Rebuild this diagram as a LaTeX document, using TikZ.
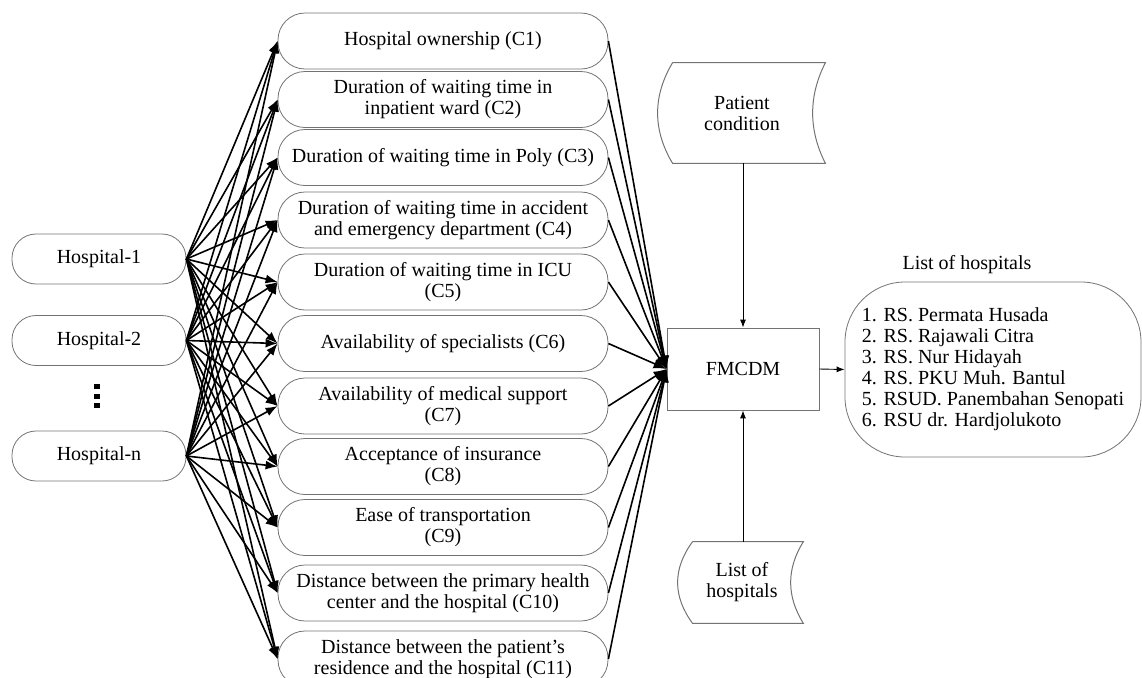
\documentclass[tikz,border=0pt]{standalone}
\usepackage{fontspec}
\setmainfont{Liberation Serif}
\usetikzlibrary{arrows.meta,positioning,calc}
\tikzset{>=latex}
\tikzset{
  hosp/.style={draw=black!55,rounded corners=12pt,minimum width=87pt,minimum height=25pt,inner sep=0pt},
  crit/.style={draw=black!55,rounded corners=13.5pt,minimum width=165pt,minimum height=28pt,inner sep=0pt,align=center},
  hcarrow/.style={-{Latex[length=6pt,width=4.5pt]},line width=0.8pt},
  cfarrow/.style={-{Latex[length=6.5pt,width=5pt]},line width=0.8pt},
  smallarrow/.style={-{Latex[length=4pt,width=3pt]},line width=0.45pt},
}
% stored data outline round a node, moved right by #2 (pt)
\newcommand{\datashape}[2]{%
  \draw[black!55,line width=0.5pt] ([xshift=#2pt]#1.north west) -- ([xshift=#2pt]#1.north east)
    .. controls ($(#1.north east)!.333!(#1.south east)+(#2pt-8.5pt,0)$) and ($(#1.north east)!.667!(#1.south east)+(#2pt-8.5pt,0)$) .. ([xshift=#2pt]#1.south east)
    -- ([xshift=#2pt]#1.south west)
    .. controls ($(#1.south west)!.333!(#1.north west)+(#2pt-10pt,0)$) and ($(#1.south west)!.667!(#1.north west)+(#2pt-10pt,0)$) .. ([xshift=#2pt]#1.north west);}

\begin{document}
\begin{tikzpicture}[x=0.5pt,y=-0.5pt,font=\fontsize{10}{10.5}\selectfont]
    \useasboundingbox (0,0) rectangle (1142,677);
    % hospitals
    \node[hosp] (h1) at (99,259) {Hospital-1};
    \node[hosp] (h2) at (99,340.5) {Hospital-2};
    \node[hosp] (hn) at (99,456) {Hospital-n};
    \foreach \y in {384,393.5,403}
        \fill (93.5,\y) rectangle (99.5,\y+5);
    % criteria
    \node[crit] (c1) at (443,41) {Hospital ownership (C1)};
    \node[crit] (c2) at (443,99.5) {Duration of waiting time in\\inpatient ward (C2)};
    \node[crit] (c3) at (443,157.5) {Duration of waiting time in Poly (C3)};
    \node[crit] (c4) at (443,220) {Duration of waiting time in accident\\and emergency department (C4)};
    \node[crit] (c5) at (443,282) {Duration of waiting time in ICU\\(C5)};
    \node[crit] (c6) at (443,343.5) {Availability of specialists (C6)};
    \node[crit] (c7) at (443,406) {Availability of medical support\\(C7)};
    \node[crit] (c8) at (443,466.5) {Acceptance of insurance\\(C8)};
    \node[crit] (c9) at (443,527.5) {Ease of transportation\\(C9)};
    \node[crit] (c10) at (443,593) {Distance between the primary health\\center and the hospital (C10)};
    \node[crit] (c11) at (443,659) {Distance between the patient's\\residence and the hospital (C11)};
    % method and inputs
    \node[draw=black!55,minimum width=76pt,minimum height=41pt] (fm) at (743,369) {FMCDM};
    \node[minimum width=76pt,minimum height=50pt,align=center] (pc) at (742,113) {Patient\\condition};
    \node[minimum width=55pt,minimum height=40.5pt,align=center] (lh) at (742,582.5) {List of\\hospitals};
    \datashape{pc}{3.5}
    \datashape{lh}{3}
    % result
    \node[draw=black!55,rounded corners=30pt,minimum width=148pt,minimum height=87.5pt,inner sep=0pt,align=left] (out) at (993,369.5)
        {1. RS. Permata Husada\\2. RS. Rajawali Citra\\3. RS. Nur Hidayah\\4. RS. PKU Muh. Bantul\\5. RSUD. Panembahan Senopati\\6. RSU dr. Hardjolukoto};
    \node (ttl) at (967,265) {List of hospitals};
    % connectors
    \foreach \h in {h1,h2,hn}
        \foreach \i in {1,...,11}
            \draw[hcarrow] (\h.east) -- (c\i.west);
    \foreach \i in {1,...,11}
        \draw[cfarrow] (c\i.east) -- (fm.west);
    \draw[smallarrow] (pc.south -| fm) -- (fm.north);
    \draw[smallarrow] (lh.north -| fm) -- (fm.south);
    \draw[smallarrow] (fm.east) -- (out.west);
\end{tikzpicture}
\end{document}
